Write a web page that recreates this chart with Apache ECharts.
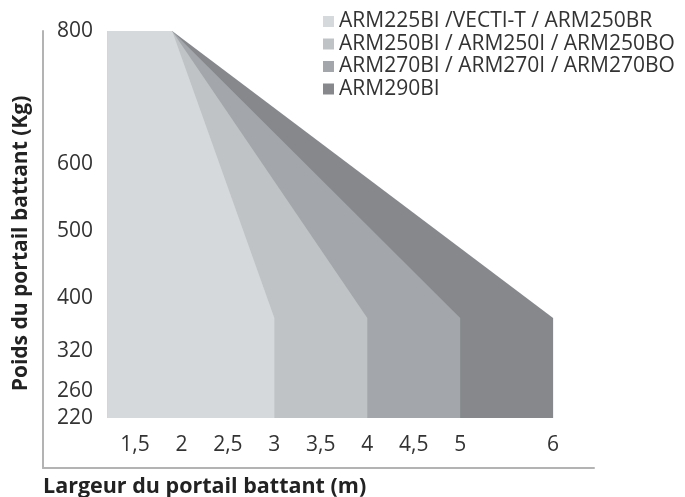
<!DOCTYPE html>
<html>
<head>
<meta charset="utf-8">
<script src="https://cdn.jsdelivr.net/npm/echarts@6/dist/echarts.min.js"></script>
<style>html,body{margin:0;padding:0;background:#fff}#c{width:685px;height:497px}</style>
</head>
<body>
<div id="c"></div>
<script>
// ---- data ----
const seriesNames = [
  'ARM225BI /VECTI-T / ARM250BR',
  'ARM250BI / ARM250I / ARM250BO',
  'ARM270BI / ARM270I / ARM270BO',
  'ARM290BI'
];
const seriesColors = ['#d6d9dc', '#c0c3c6', '#a3a6aa', '#86888c'];
const minWidth = 1.2;          // left edge of every area (m)
const maxWeight = 800;         // kg
const flatUntil = 1.9;         // width where the 800 kg plateau ends (m)
const maxWidths = [3, 4, 5, 6];          // max width per motor (m)
const weightAtMaxWidth = [370, 370, 370, 370]; // kg at max width
const baseWeight = 220;        // bottom of areas (kg)
const xTickValues = [1.5, 2, 2.5, 3, 3.5, 4, 4.5, 5, 6];
const yTickValues = [220, 260, 320, 400, 500, 600, 800];
const xTitle = 'Largeur du portail battant (m)';
const yTitle = 'Poids du portail battant (Kg)';

// ---- chart ----
const chart = echarts.init(document.getElementById('c'), null, {renderer: 'canvas'});
const FONT = '"Open Sans", sans-serif';

function polygonFor(i) {
  return [
    [minWidth, baseWeight],
    [minWidth, maxWeight],
    [flatUntil, maxWeight],
    [maxWidths[i], weightAtMaxWidth[i]],
    [maxWidths[i], baseWeight]
  ];
}

const series = seriesNames.map((name, i) => ({
  type: 'custom',
  name: name,
  z: 10 - i,
  itemStyle: {color: seriesColors[i]},
  data: polygonFor(i),
  renderItem: function (params, api) {
    if (params.dataIndex !== 0) return null;
    const pts = polygonFor(i).map(p => api.coord(p));
    return {
      type: 'polygon',
      shape: {points: pts},
      style: {fill: seriesColors[i]}
    };
  },
  encode: {x: 0, y: 1},
  silent: true
}));

chart.setOption({
  animation: false,
  textStyle: {fontFamily: FONT},
  grid: {left: 43, right: 91, top: 31, bottom: 29, containLabel: false},
  title: {
    text: xTitle,
    left: 43, top: 476,
    padding: 0,
    textStyle: {fontFamily: FONT, fontWeight: 'bold', fontSize: 21.5, color: '#222'}
  },
  legend: {
    orient: 'vertical',
    left: 323, top: 11,
    padding: 0,
    itemWidth: 11, itemHeight: 11,
    itemGap: 1.5,
    icon: 'rect',
    data: seriesNames,
    textStyle: {fontFamily: FONT, fontSize: 21, color: '#333'}
  },
  xAxis: {
    type: 'value',
    min: 0.51, max: 6.44,
    axisLine: {show: true, lineStyle: {color: '#b3b3b3', width: 2}},
    axisTick: {show: false},
    splitLine: {show: false},
    axisLabel: {
      inside: true,
      margin: 23,
      verticalAlign: 'middle',
      customValues: xTickValues,
      formatter: v => String(v).replace('.', ','),
      fontFamily: FONT, fontSize: 21, color: '#333'
    }
  },
  yAxis: {
    type: 'value',
    min: 145, max: 800,
    name: yTitle,
    nameLocation: 'middle',
    nameGap: 11,
    nameTextStyle: {fontFamily: FONT, fontWeight: 'bold', fontSize: 21, color: '#222', padding: [0, 0, 0, 12]},
    axisLine: {show: true, lineStyle: {color: '#b3b3b3', width: 2}},
    axisTick: {show: false},
    splitLine: {show: false},
    axisLabel: {
      inside: true,
      margin: 50,
      align: 'right',
      customValues: yTickValues,
      fontFamily: FONT, fontSize: 21, color: '#333'
    }
  },
  series: series
});
</script>
</body>
</html>
